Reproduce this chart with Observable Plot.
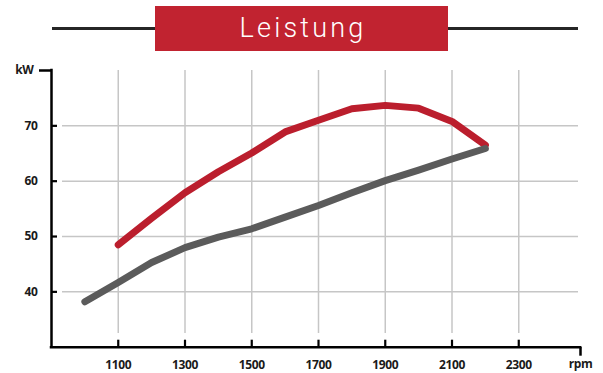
<!DOCTYPE html>
<html>
<head>
<meta charset="utf-8">
<script src="https://cdn.jsdelivr.net/npm/d3@7"></script>
<script src="https://cdn.jsdelivr.net/npm/@observablehq/plot@0.6"></script>
<style>
  html, body { margin: 0; padding: 0; background: #fff; }
  #wrap { position: relative; width: 603px; height: 373px; overflow: hidden; }
  #rule { position: absolute; left: 52px; top: 27px; width: 526px; height: 2.5px; background: #262626; }
  #titlebox { position: absolute; left: 155px; top: 6px; width: 293px; height: 45px; background: #c12330;
    color: #fff; font-family: Roboto, sans-serif; font-weight: 300; font-size: 27px; letter-spacing: 3.2px;
    line-height: 45px; text-align: center; text-indent: 3px; }
  #chart { position: absolute; left: 0; top: 0; }
</style>
</head>
<body>
<div id="wrap">
  <div id="chart"></div>
  <div id="rule"></div>
  <div id="titlebox">Leistung</div>
</div>
<script>
const titleText = "Leistung";
const yUnit = "kW";
const xUnit = "rpm";
const xTicks = [1100, 1300, 1500, 1700, 1900, 2100, 2300];
const yTicks = [40, 50, 60, 70];

const rpmRed = [1100, 1200, 1300, 1400, 1500, 1600, 1700, 1800, 1900, 2000, 2100, 2200];
const kwRed  = [48.5, 53.3, 57.9, 61.7, 65.1, 68.9, 71.0, 73.1, 73.7, 73.2, 70.8, 66.5];

const rpmGray = [1000, 1100, 1200, 1300, 1400, 1500, 1600, 1700, 1800, 1900, 2000, 2100, 2200];
const kwGray  = [38.2, 41.7, 45.3, 48.0, 49.9, 51.4, 53.5, 55.6, 57.9, 60.1, 62.0, 64.0, 65.9];

const redData = rpmRed.map((x, i) => ({x, y: kwRed[i]}));
const grayData = rpmGray.map((x, i) => ({x, y: kwGray[i]}));

const W = 603, H = 373, mL = 51, mR = 23, mT = 70, mB = 26.3;
const fw = W - mL - mR, fh = H - mT - mB;
const xMin = 900, xMax = 2485, yMin = 30, yMax = 80;
const font = "'Open Sans', sans-serif";

const chart = Plot.plot({
  width: W, height: H,
  marginLeft: mL, marginRight: mR, marginTop: mT, marginBottom: mB,
  x: {domain: [xMin, xMax], axis: null},
  y: {domain: [yMin, yMax], axis: null},
  style: {fontFamily: font, background: "transparent"},
  marks: [
    // grid
    Plot.tickY(yTicks, {y: d => d, stroke: "#c6c6c6", strokeWidth: 1.5, insetLeft: 11, insetRight: 2}),
    Plot.tickX(xTicks, {x: d => d, stroke: "#c6c6c6", strokeWidth: 1.5, insetBottom: 13.7}),
    // ticks
    Plot.tickY(yTicks, {y: d => d, stroke: "#000", strokeWidth: 2.2, insetRight: fw - 6}),
    Plot.tickX(xTicks, {x: d => d, stroke: "#000", strokeWidth: 2.2, insetTop: fh - 7}),
    Plot.tickY([yMax], {y: d => d, stroke: "#000", strokeWidth: 2.5, insetRight: fw - 12, dx: -12}),
    Plot.tickX([xMax], {x: d => d, stroke: "#000", strokeWidth: 2.5, insetTop: fh - 9, dy: 9}),
    // axis lines
    Plot.ruleX([xMin], {y1: yMin, y2: yMax, stroke: "#000", strokeWidth: 2.5, strokeLinecap: "square"}),
    Plot.ruleY([yMin], {x1: xMin, x2: xMax, stroke: "#000", strokeWidth: 2.5, strokeLinecap: "square"}),
    // labels
    Plot.text(yTicks, {x: xMin, y: d => d, text: d => String(d), dx: -14, textAnchor: "end",
      fontSize: 12, fontWeight: 700, fill: "#1a1a1a"}),
    Plot.text(xTicks, {x: d => d, y: yMin, text: d => String(d), dy: 18,
      fontSize: 12, fontWeight: 700, fill: "#1a1a1a"}),
    Plot.text([yUnit], {x: xMin, y: yMax, text: d => d, dx: -18, textAnchor: "end",
      fontSize: 12, fontWeight: 700, fill: "#1a1a1a"}),
    Plot.text([xUnit], {x: xMax, y: yMin, text: d => d, dy: 17,
      fontSize: 12, fontWeight: 700, fill: "#1a1a1a"}),
    // series
    Plot.line(redData, {x: "x", y: "y", stroke: "#bb1e2d", strokeWidth: 7, strokeLinecap: "round", strokeLinejoin: "round"}),
    Plot.line(grayData, {x: "x", y: "y", stroke: "#5b5b5b", strokeWidth: 7, strokeLinecap: "round", strokeLinejoin: "round"})
  ]
});
chart.querySelectorAll("text").forEach(t => t.setAttribute("letter-spacing", "-0.4"));
document.getElementById("chart").appendChild(chart);
document.getElementById("titlebox").textContent = titleText;
</script>
</body>
</html>
